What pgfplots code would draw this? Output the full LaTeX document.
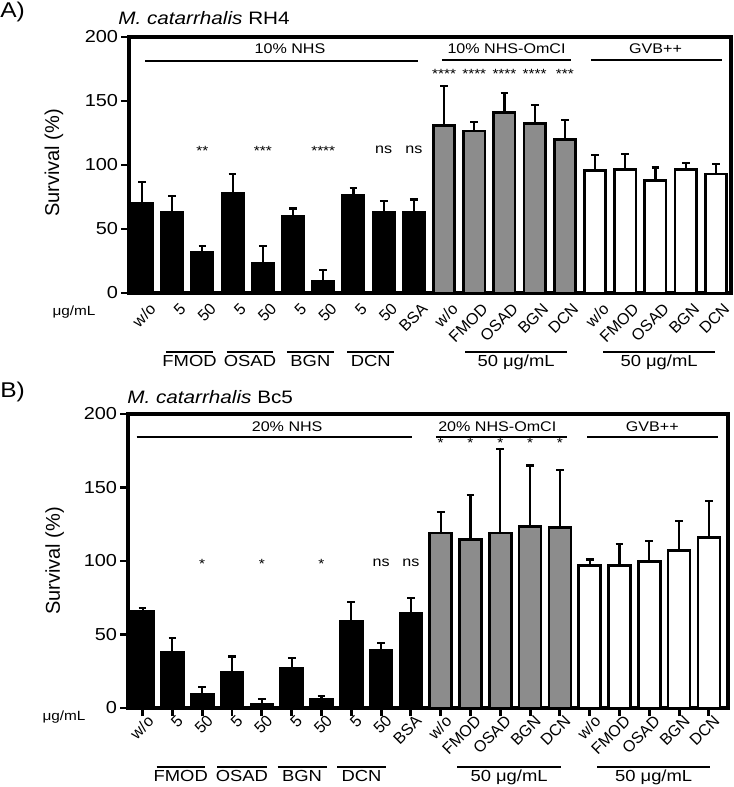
\documentclass[border=0pt]{standalone}
\usepackage{fontspec}
\setmainfont[FakeStretch=1.15]{Liberation Sans}
\newfontfamily\plainsans{Liberation Sans}
\usepackage{pgfplots}
\pgfplotsset{compat=1.18}
\definecolor{bargray}{gray}{0.55}

\pgfplotsset{
  surv/.style={
    scale only axis, clip=false,
    ymin=0, ymax=200, ytick={0,50,100,150,200},
    axis line style={line width=2.6pt},
    tick align=outside, tick pos=left,
    major tick length=6pt,
    every tick/.style={black, line width=2.2pt},
    xtick={0,...,19},
    xticklabels={w/o,5,50,5,50,5,50,5,50,BSA,w/o,FMOD,OSAD,BGN,DCN,w/o,FMOD,OSAD,BGN,DCN},
    xticklabel style={rotate=45, anchor=north east, inner sep=1pt, xshift=4pt,
      font=\plainsans\fontsize{12}{13}\selectfont},
    yticklabel style={font=\fontsize{13}{14}\selectfont, inner sep=2pt},
    /pgf/number format/assume math mode=true,
    ybar, bar shift=0pt,
    error bars/y dir=plus, error bars/y explicit,
    error bars/error bar style={line width=1.6pt, black},
    error bars/error mark options={rotate=90, mark size=2.9pt, line width=1.6pt, black},
  },
  blk/.style={bar shift=0pt, draw=black, fill=black, line width=2pt},
  gry/.style={bar shift=0pt, draw=black, fill=bargray, line width=2pt},
  wht/.style={bar shift=0pt, draw=black, fill=white, line width=2pt},
}
\tikzset{
  ann/.style={font=\fontsize{10.5}{12}\selectfont},
  star/.style={font=\fontsize{10}{11}\selectfont},
  grp/.style={font=\fontsize{12}{13}\selectfont, below, inner sep=2pt},
  gl/.style={line width=1.5pt},
}
% group line under the axis: from x=#1 to x=#2, label #3
\newcommand{\grpline}[3]{%
  \draw[gl] ([yshift=-44pt]axis cs:#1,0) -- ([yshift=-44pt]axis cs:#2,0)
    node[grp, midway] {#3};}

\begin{document}
\begin{tikzpicture}
\useasboundingbox (0pt,0pt) rectangle (549.75pt,-590.25pt);

% ---------- panel A ----------
\node[anchor=north west, inner sep=0pt, font=\fontsize{16}{18}\selectfont] at (0pt,-1.5pt) {A)};
\node[anchor=base west, inner sep=0pt, font=\fontsize{13.5}{15}\selectfont] at (88.5pt,-18.75pt) {\textit{M. catarrhalis} RH4};
\node[rotate=90, font=\plainsans\fontsize{15}{17}\selectfont] at (40.5pt,-122.25pt) {Survival (\%)};
\node[font=\fontsize{10}{11}\selectfont] at (55.5pt,-234pt) {μg/mL};

\begin{axis}[surv,
  at={(96.75pt,-219.75pt)}, anchor=south west,
  width=451.5pt, height=192pt,
  xmin=-0.43, xmax=19.5,
  bar width=16pt,
  x tick style={draw=none},
  xticklabel style={yshift=-3pt},
]
\addplot[blk] coordinates {
  (0,70) +- (0,17) (1,63) +- (0,13) (2,32) +- (0,4.5) (3,78) +- (0,15)
  (4,23.5) +- (0,13.5) (5,60) +- (0,6) (6,9.5) +- (0,8.5) (7,76) +- (0,6)
  (8,63) +- (0,9) (9,63) +- (0,10)
};
\addplot[gry] coordinates {
  (10,131) +- (0,31) (11,126.5) +- (0,7) (12,141) +- (0,15)
  (13,132.5) +- (0,14.5) (14,120) +- (0,15)
};
\addplot[wht] coordinates {
  (15,95.5) +- (0,12) (16,96.5) +- (0,12) (17,88) +- (0,10)
  (18,96.5) +- (0,5) (19,93) +- (0,7.5)
};
% conditions above
\draw[gl] (axis cs:0.1,181) -- (axis cs:9.15,181);
\draw[gl] (axis cs:9.93,182) -- (axis cs:14.2,182);
\draw[gl] (axis cs:14.87,182) -- (axis cs:19.2,182);
\node[ann] at (axis cs:4.9,191) {10\% NHS};
\node[ann] at (axis cs:12.07,191) {10\% NHS-OmCI};
\node[ann] at (axis cs:17.0,191) {GVB++};
% significance
\node[star] at (axis cs:2,111) {**};
\node[star] at (axis cs:4,111) {***};
\node[star] at (axis cs:6,111) {****};
\node[ann] at (axis cs:8,112) {ns};
\node[ann] at (axis cs:9,112) {ns};
\node[star] at (axis cs:10,171) {****};
\node[star] at (axis cs:11,171) {****};
\node[star] at (axis cs:12,171) {****};
\node[star] at (axis cs:13,171) {****};
\node[star] at (axis cs:14,171) {***};
% groups below
\grpline{0.8}{2.35}{FMOD}
\grpline{2.8}{4.35}{OSAD}
\grpline{4.8}{6.35}{BGN}
\grpline{6.8}{8.35}{DCN}
\grpline{10.7}{14.07}{50 μg/mL}
\grpline{15.27}{18.97}{50 μg/mL}
\end{axis}

% ---------- panel B ----------
\node[anchor=north west, inner sep=0pt, font=\fontsize{16}{18}\selectfont] at (0pt,-286.5pt) {B)};
\node[anchor=base west, inner sep=0pt, font=\fontsize{13.5}{15}\selectfont] at (95.25pt,-302.25pt) {\textit{M. catarrhalis} Bc5};
\node[rotate=90, font=\plainsans\fontsize{15}{17}\selectfont] at (41pt,-420.75pt) {Survival (\%)};
\node[font=\fontsize{10}{11}\selectfont] at (48pt,-537.75pt) {μg/mL};

\begin{axis}[surv,
  at={(96pt,-531pt)}, anchor=south west,
  width=450pt, height=220.5pt,
  xmin=-0.49, xmax=19.64,
  bar width=16.5pt,
]
\addplot[blk] coordinates {
  (0,65.5) +- (0,2.5) (1,38) +- (0,9.5) (2,9.5) +- (0,4.5) (3,24) +- (0,11)
  (4,2.5) +- (0,3.5) (5,27) +- (0,7) (6,6) +- (0,2) (7,59) +- (0,13)
  (8,39.5) +- (0,5) (9,64.5) +- (0,10.5)
};
\addplot[gry] coordinates {
  (10,119) +- (0,14.5) (11,114.5) +- (0,30.5) (12,119) +- (0,57)
  (13,123.5) +- (0,41.5) (14,123) +- (0,39)
};
\addplot[wht] coordinates {
  (15,97) +- (0,4) (16,97) +- (0,14.5) (17,99.5) +- (0,14)
  (18,107) +- (0,20) (19,116) +- (0,25)
};
\draw[gl] (axis cs:-0.2,184.5) -- (axis cs:9.03,184.5);
\draw[gl] (axis cs:9.84,184.5) -- (axis cs:14.25,184.5);
\draw[gl] (axis cs:14.92,184.5) -- (axis cs:19.3,184.5);
\node[ann] at (axis cs:4.85,191.5) {20\% NHS};
\node[ann] at (axis cs:11.9,191.5) {20\% NHS-OmCI};
\node[ann] at (axis cs:17.1,191.5) {GVB++};
\node[star] at (axis cs:2,98) {*};
\node[star] at (axis cs:4,98) {*};
\node[star] at (axis cs:6,98) {*};
\node[ann] at (axis cs:8,99) {ns};
\node[ann] at (axis cs:9,99) {ns};
\node[star] at (axis cs:10,180) {*};
\node[star] at (axis cs:11,180) {*};
\node[star] at (axis cs:12,180) {*};
\node[star] at (axis cs:13,180) {*};
\node[star] at (axis cs:14,180) {*};
\grpline{0.47}{2.09}{FMOD}
\grpline{2.5}{4.16}{OSAD}
\grpline{4.53}{6.17}{BGN}
\grpline{6.53}{8.16}{DCN}
\grpline{10.56}{14.03}{50 μg/mL}
\grpline{15.25}{19.04}{50 μg/mL}
\end{axis}
\end{tikzpicture}
\end{document}
